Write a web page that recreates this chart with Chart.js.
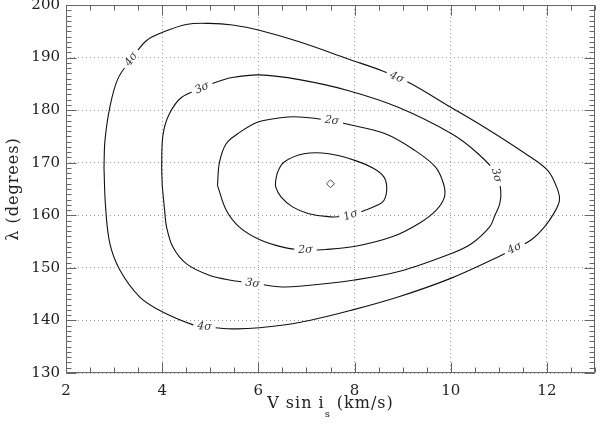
<!DOCTYPE html>
<html>
<head>
<meta charset="utf-8">
<script src="https://cdn.jsdelivr.net/npm/chart.js@4.4.0/dist/chart.umd.min.js"></script>
<style>
body { margin: 0; background: #fff; }
#wrap { width: 600px; height: 425px; }
</style>
</head>
<body>
<div id="wrap"><canvas id="myChart"></canvas></div>
<script>
// contornos de confianza: V sin i_s (km/s) vs lambda (grados)
const sig1X = [6.36, 6.40, 6.53, 6.95, 7.47, 8.02, 8.40, 8.61, 8.67, 8.61, 8.47, 8.23, 7.92, 7.50, 7.05, 6.71, 6.47, 6.36, 6.36];
const sig1Y = [166.6, 168.2, 170.1, 171.7, 171.7, 170.4, 168.9, 167.3, 165.1, 162.8, 161.9, 161.0, 160.0, 159.7, 160.3, 161.6, 163.5, 165.4, 166.6];

const sig2X = [5.15, 5.19, 5.33, 5.57, 5.98, 6.50, 6.85, 7.53, 7.81, 8.64, 9.26, 9.68, 9.85, 9.87, 9.70, 9.33, 8.78, 8.02, 7.40, 6.98, 6.53, 6.02, 5.60, 5.33, 5.15];
const sig2Y = [165.7, 170.0, 173.6, 175.5, 177.7, 178.6, 178.7, 178.0, 177.4, 175.5, 172.3, 169.2, 166.0, 163.5, 161.0, 158.4, 155.9, 154.1, 153.5, 153.4, 153.9, 155.4, 157.8, 161.0, 165.7];

const sig3X = [4.00, 3.99, 4.02, 4.15, 4.40, 4.83, 5.12, 5.46, 6.02, 6.85, 7.88, 8.92, 10.02, 10.57, 10.95, 11.04, 11.02, 10.92, 10.81, 10.43, 10.00, 8.92, 8.00, 6.85, 6.43, 5.87, 5.46, 4.98, 4.50, 4.22, 4.09, 4.05, 4.00];
const sig3Y = [165.7, 170.0, 175.5, 179.3, 182.4, 184.2, 185.3, 186.2, 186.7, 185.8, 183.7, 180.5, 175.5, 171.7, 167.9, 164.7, 162.2, 160.0, 157.8, 154.6, 152.7, 149.3, 147.7, 146.5, 146.4, 147.1, 147.6, 148.6, 150.8, 154.0, 157.8, 161.0, 165.7];

const sig4X = [2.79, 2.81, 2.91, 3.08, 3.36, 3.67, 4.01, 4.50, 4.98, 5.46, 6.02, 6.85, 7.88, 8.57, 9.12, 10.01, 10.71, 11.54, 12.02, 12.23, 12.26, 12.16, 11.95, 11.67, 11.33, 10.99, 10.00, 8.92, 8.00, 6.85, 6.02, 5.46, 4.88, 4.63, 3.99, 3.53, 3.12, 2.91, 2.82, 2.79];
const sig4Y = [169.1, 174.2, 180.5, 186.0, 189.7, 193.2, 194.8, 196.3, 196.5, 196.2, 195.2, 193.0, 189.7, 187.5, 185.3, 180.5, 176.7, 171.8, 168.5, 164.7, 162.8, 160.6, 157.8, 155.3, 153.7, 152.1, 148.0, 144.5, 142.1, 139.6, 138.6, 138.4, 138.8, 139.2, 141.7, 144.5, 149.6, 154.7, 162.0, 169.1];

// mejor ajuste
const bestX = [7.5];
const bestY = [166.0];

// etiquetas sobre los contornos
const labelText = ['1σ', '2σ', '2σ', '3σ', '3σ', '3σ', '4σ', '4σ', '4σ', '4σ'];
const labelSet = [0, 1, 1, 2, 2, 2, 3, 3, 3, 3];
const labelX = [7.92, 7.53, 6.98, 4.83, 10.95, 5.88, 3.36, 8.88, 11.33, 4.88];
const labelY = [160.0, 178.0, 153.4, 184.2, 167.6, 147.05, 189.7, 186.2, 153.7, 138.8];

// ejes
const xTickVals = [2, 4, 6, 8, 10, 12];
const yTickVals = [130, 140, 150, 160, 170, 180, 190, 200];
const xMinorStep = 0.5;
const yMinorStep = 1;

const FONT = 'DejaVu Serif';

const pts = (xs, ys) => xs.map((v, i) => ({x: v, y: ys[i]}));

const contour = (xs, ys) => ({
    data: pts(xs, ys),
    showLine: true,
    pointRadius: 0,
    borderColor: '#111',
    borderWidth: 1.1,
    tension: 0.35,
    fill: false
});

// etiquetas giradas segun el contorno
const contourLabels = {
    id: 'contourLabels',
    afterDatasetsDraw(chart) {
        const ctx = chart.ctx;
        const xs = chart.scales.x, ys = chart.scales.y;
        ctx.save();
        ctx.font = 'italic 11px "' + FONT + '"';
        ctx.textAlign = 'center';
        ctx.textBaseline = 'middle';
        labelText.forEach((t, i) => {
            const px = xs.getPixelForValue(labelX[i]);
            const py = ys.getPixelForValue(labelY[i]);
            const d = chart.data.datasets[labelSet[i]].data;
            let best = 1e9, ang = 0;
            for (let k = 0; k < d.length - 1; k++) {
                const x1 = xs.getPixelForValue(d[k].x), y1 = ys.getPixelForValue(d[k].y);
                const x2 = xs.getPixelForValue(d[k + 1].x), y2 = ys.getPixelForValue(d[k + 1].y);
                const dx = x2 - x1, dy = y2 - y1;
                let u = ((px - x1) * dx + (py - y1) * dy) / (dx * dx + dy * dy);
                u = Math.max(0, Math.min(1, u));
                const qx = x1 + u * dx - px, qy = y1 + u * dy - py;
                const dist = qx * qx + qy * qy;
                if (dist < best) { best = dist; ang = Math.atan2(dy, dx); }
            }
            if (ang > Math.PI / 2) ang -= Math.PI;
            if (ang < -Math.PI / 2) ang += Math.PI;
            const w = ctx.measureText(t).width + 8;
            ctx.save();
            ctx.translate(px, py);
            ctx.rotate(ang);
            ctx.fillStyle = '#fff';
            ctx.fillRect(-w / 2, -4, w, 8);
            ctx.fillStyle = '#333';
            ctx.fillText(t, 0, 0);
            ctx.restore();
        });
        ctx.restore();
    }
};

// marco con marcas hacia dentro y titulos
const frame = {
    id: 'frame',
    afterDraw(chart) {
        const ctx = chart.ctx;
        const a = chart.chartArea;
        const xs = chart.scales.x, ys = chart.scales.y;
        const L = Math.round(a.left) + 0.5, R = Math.round(a.right) - 0.5;
        const T = Math.round(a.top) + 0.5, B = Math.round(a.bottom) - 0.5;
        ctx.save();
        ctx.strokeStyle = '#666';
        ctx.lineWidth = 1;
        ctx.beginPath();
        ctx.rect(L, T, R - L, B - T);
        for (let v = xs.min; v <= xs.max + 1e-9; v += xMinorStep) {
            const p = Math.round(xs.getPixelForValue(v)) + 0.5;
            const len = xTickVals.includes(v) ? 10 : 5;
            ctx.moveTo(p, B); ctx.lineTo(p, B - len);
            ctx.moveTo(p, T); ctx.lineTo(p, T + len);
        }
        for (let v = ys.min; v <= ys.max + 1e-9; v += yMinorStep) {
            const p = Math.round(ys.getPixelForValue(v)) + 0.5;
            const len = yTickVals.includes(v) ? 10 : 5;
            ctx.moveTo(L, p); ctx.lineTo(L + len, p);
            ctx.moveTo(R, p); ctx.lineTo(R - len, p);
        }
        ctx.stroke();

        ctx.fillStyle = '#222';
        ctx.letterSpacing = '1px';
        ctx.textBaseline = 'alphabetic';
        const big = '16px "' + FONT + '"', small = '10px "' + FONT + '"';
        const s1 = 'V sin i', s2 = 's', s3 = ' (km/s)';
        ctx.font = big;
        const w1 = ctx.measureText(s1).width, w3 = ctx.measureText(s3).width;
        ctx.font = small;
        const w2 = ctx.measureText(s2).width;
        const x0 = (a.left + a.right) / 2 - (w1 + w2 + w3) / 2;
        const base = 408;
        ctx.textAlign = 'left';
        ctx.font = big;
        ctx.fillText(s1, x0, base);
        ctx.font = small;
        ctx.fillText(s2, x0 + w1, base + 9);
        ctx.font = big;
        ctx.fillText(s3, x0 + w1 + w2, base);

        ctx.translate(14, (a.top + a.bottom) / 2);
        ctx.rotate(-Math.PI / 2);
        ctx.textAlign = 'center';
        ctx.textBaseline = 'middle';
        ctx.fillText('λ (degrees)', 0, 0);
        ctx.restore();
    }
};

const data = {
    datasets: [
        contour(sig1X, sig1Y),
        contour(sig2X, sig2Y),
        contour(sig3X, sig3Y),
        contour(sig4X, sig4Y),
        {
            data: pts(bestX, bestY),
            pointStyle: 'rectRot',
            pointRadius: 4,
            borderColor: '#444',
            backgroundColor: '#fff',
            borderWidth: 1
        }
    ]
};

const config = {
    type: 'scatter',
    data: data,
    options: {
        responsive: true,
        maintainAspectRatio: false,
        animation: false,
        layout: { padding: { left: 0, right: 3, top: 5, bottom: 0 } },
        plugins: { legend: { display: false }, tooltip: { enabled: false } },
        scales: {
            x: {
                type: 'linear',
                min: 2,
                max: 13,
                afterBuildTicks: s => { s.ticks = xTickVals.map(v => ({ value: v })); },
                afterFit: s => { s.height = 52; s.paddingLeft = 0; s.paddingRight = 0; },
                grid: { color: '#999', drawTicks: false },
                border: { display: false, dash: [1, 3] },
                ticks: { padding: 9, color: '#222', font: { family: FONT, size: 15 } }
            },
            y: {
                type: 'linear',
                min: 130,
                max: 200,
                afterBuildTicks: s => { s.ticks = yTickVals.map(v => ({ value: v })); },
                afterFit: s => { s.width = 66; s.paddingTop = 0; s.paddingBottom = 0; },
                grid: { color: '#999', drawTicks: false },
                border: { display: false, dash: [1, 3] },
                ticks: { padding: 6, color: '#222', font: { family: FONT, size: 15 } }
            }
        }
    },
    plugins: [contourLabels, frame]
};

const myChart = new Chart(document.getElementById('myChart'), config);
</script>
</body>
</html>
